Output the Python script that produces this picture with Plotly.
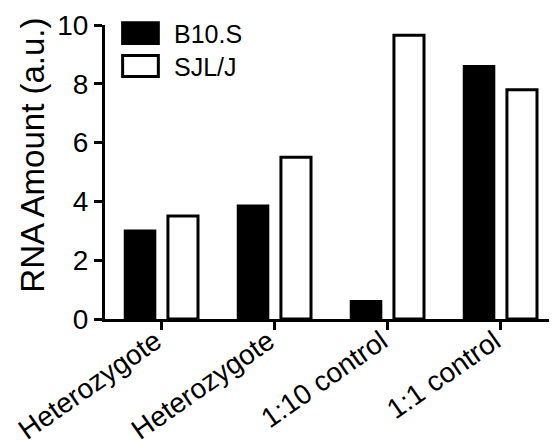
import plotly.graph_objects as go

categories = ["Heterozygote", "Heterozygote ", "1:10 control", "1:1 control"]
tick_labels = ["Heterozygote", "Heterozygote", "1:10 control", "1:1 control"]
b10s_values = [3.0, 3.85, 0.6, 8.6]
sjlj_values = [3.5, 5.5, 9.65, 7.8]
series_names = ["B10.S", "SJL/J"]
y_ticks = [0, 2, 4, 6, 8, 10]
y_title = "RNA Amount (a.u.)"

FONT = "Liberation Sans, Arial, sans-serif"

fig = go.Figure()
fig.add_trace(go.Bar(
    x=categories, y=b10s_values, name=series_names[0],
    marker=dict(color="black", line=dict(color="black", width=2.5)),
    showlegend=False,
))
fig.add_trace(go.Bar(
    x=categories, y=sjlj_values, name=series_names[1],
    marker=dict(color="white", line=dict(color="black", width=3)),
    showlegend=False,
))

# legend drawn as swatches + labels
fig.add_shape(type="rect", xref="paper", yref="paper",
              x0=0.039, x1=0.118, y0=0.937, y1=1.008,
              fillcolor="black", line=dict(color="black", width=3))
fig.add_shape(type="rect", xref="paper", yref="paper",
              x0=0.039, x1=0.118, y0=0.825, y1=0.896,
              fillcolor="white", line=dict(color="black", width=3))
fig.add_annotation(xref="paper", yref="paper", x=0.148, y=0.969,
                   text=series_names[0], showarrow=False, xanchor="left",
                   yanchor="middle", font=dict(family=FONT, size=25, color="black"))
fig.add_annotation(xref="paper", yref="paper", x=0.148, y=0.857,
                   text=series_names[1], showarrow=False, xanchor="left",
                   yanchor="middle", font=dict(family=FONT, size=25, color="black"))
# y-axis title
fig.add_annotation(xref="paper", yref="paper", x=-0.16, y=0.558,
                   text=y_title, textangle=-90, showarrow=False,
                   xanchor="center", yanchor="middle",
                   font=dict(family=FONT, size=33, color="black"))

fig.update_layout(
    width=549, height=439,
    margin=dict(l=97, r=0, t=17, b=128),
    paper_bgcolor="white", plot_bgcolor="white",
    barmode="group", bargap=0.24, bargroupgap=0.3,
    font=dict(family=FONT, color="black"),
)
fig.update_xaxes(
    tickvals=categories, ticktext=tick_labels, tickangle=-35,
    showline=True, linecolor="black", linewidth=3,
    ticks="outside", ticklen=8, tickwidth=3, tickcolor="black",
    tickfont=dict(family=FONT, size=28, color="black"),
    ticklabelstandoff=-16, ticklabelshift=-6,
    showgrid=False, zeroline=False, range=[-0.5, 3.5], automargin=False,
)
fig.update_yaxes(
    range=[0, 10], tickvals=y_ticks,
    showline=True, linecolor="black", linewidth=3,
    ticks="outside", ticklen=8, tickwidth=3, tickcolor="black",
    tickfont=dict(family=FONT, size=28, color="black"),
    showgrid=False, zeroline=False, automargin=False,
)

fig.write_html("out.html")
